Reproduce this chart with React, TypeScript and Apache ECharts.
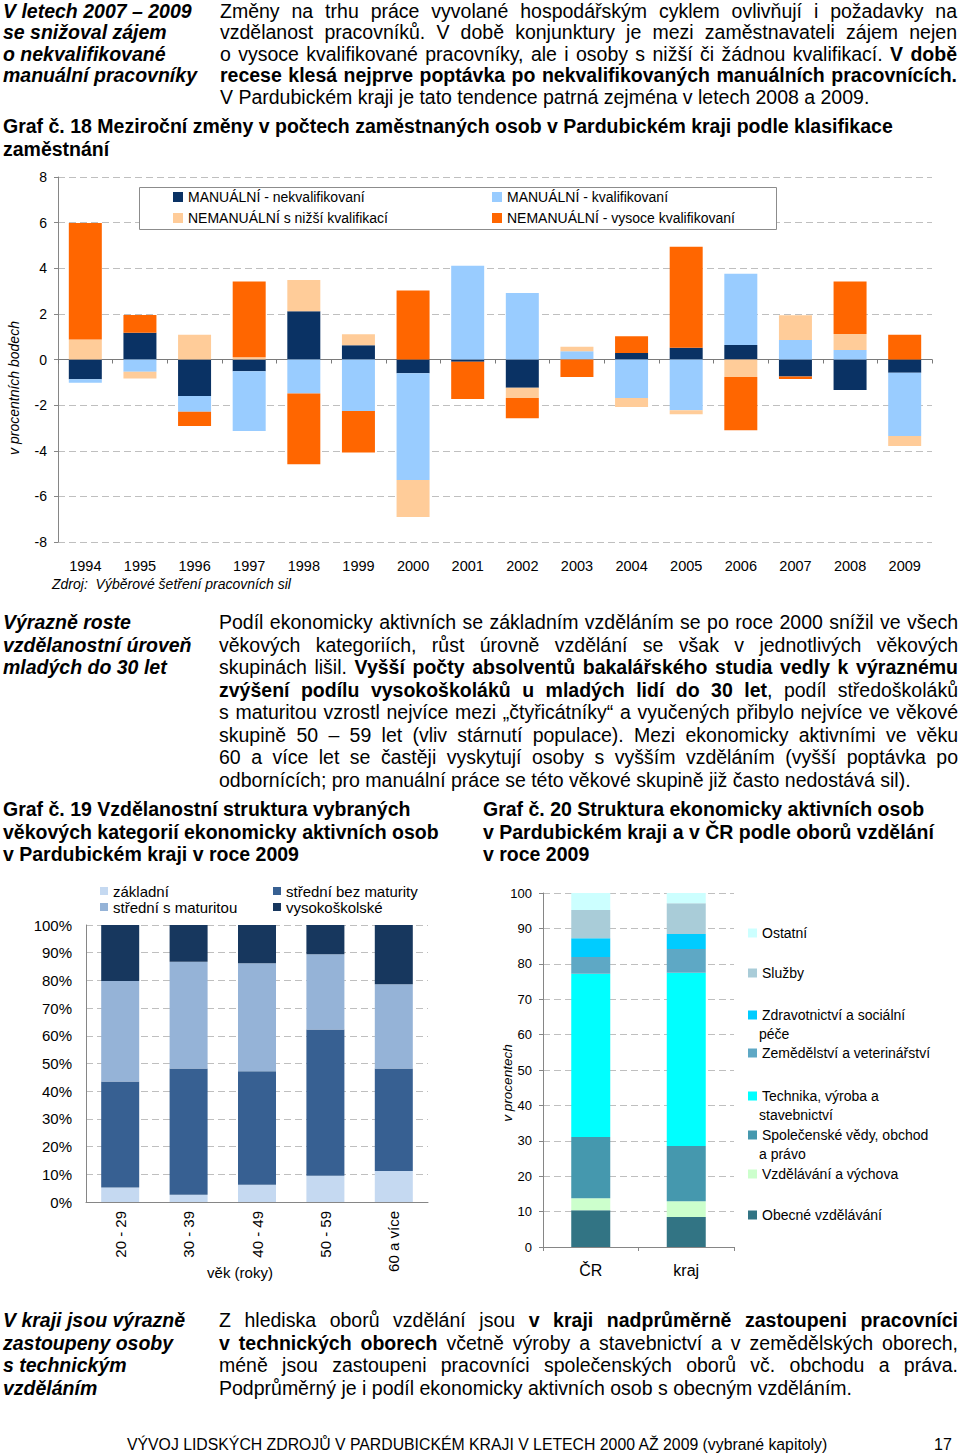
import React, { useEffect, useRef } from "react";
import * as echarts from "echarts";

// ---------- Graf č. 18 ----------
const years = ["1994", "1995", "1996", "1997", "1998", "1999", "2000", "2001", "2002", "2003", "2004", "2005", "2006", "2007", "2008", "2009"];
const manNekval = [-0.87, 1.17, -1.6, -0.51, 2.11, 0.63, -0.6, -0.1, -1.24, 0, 0.28, 0.52, 0.64, -0.74, -1.34, -0.58];
const manKval = [-0.15, -0.54, -0.69, -2.62, -1.49, -2.26, -4.68, 4.11, 2.92, 0.36, -1.69, -2.23, 3.12, 0.85, 0.42, -2.77];
const nemanNizsi = [0.88, -0.29, 1.09, 0.1, 1.38, 0.48, -1.62, 0, -0.45, 0.2, -0.39, -0.17, -0.77, 1.09, 0.7, -0.44];
const nemanVysoce = [5.1, 0.78, -0.63, 3.32, -3.1, -1.82, 3.03, -1.63, -0.89, -0.77, 0.74, 4.42, -2.33, -0.12, 2.3, 1.09];
const s18Names = ["MANUÁLNÍ - nekvalifikovaní", "MANUÁLNÍ - kvalifikovaní", "NEMANUÁLNÍ s nižší kvalifikací", "NEMANUÁLNÍ - vysoce kvalifikovaní"];

// ---------- Graf č. 19 ----------
const ages = ["20 - 29", "30 - 39", "40 - 49", "50 - 59", "60 a více"];
const zakladni = [5.2, 2.6, 6.2, 9.5, 11.2];
const stredniBez = [38.3, 45.6, 41.0, 52.8, 37.0];
const stredniS = [36.3, 38.5, 39.0, 27.1, 30.4];
const vysokoskolske = [20.2, 13.3, 13.8, 10.6, 21.4];
const s19Names = ["základní", "střední bez maturity", "střední s maturitou", "vysokoškolské"];

// ---------- Graf č. 20 ----------
const regions = ["ČR", "kraj"];
const obecne = [10.4, 8.5];
const vzdelavani = [3.4, 4.4];
const spolecenske = [17.3, 15.6];
const technika = [46.1, 49.0];
const zemedelstvi = [4.7, 6.7];
const zdravotnictvi = [5.3, 4.2];
const sluzby = [8.0, 8.7];
const ostatni = [4.8, 2.9];
const s20Names = [
  "Obecné vzdělávání",
  "Vzdělávání a výchova",
  "Společenské vědy, obchod a právo",
  "Technika, výroba a stavebnictví",
  "Zemědělství a veterinářství",
  "Zdravotnictví a sociální péče",
  "Služby",
  "Ostatní",
];

const CF = '"Liberation Sans", Arial, Helvetica, sans-serif';
const AX = "#868686";
const GR = "#BFBFBF";

function Chart({ option, style }: { option: any; style: any }) {
  const ref = useRef<HTMLDivElement>(null);
  useEffect(() => {
    const c = echarts.init(ref.current as HTMLDivElement, null, { renderer: "svg" });
    c.setOption(option);
    return () => c.dispose();
  }, []);
  return <div ref={ref} style={style} />;
}

function txt(x: number, y: number, text: string, font: string, opts: any = {}) {
  return {
    type: "text",
    x,
    y,
    rotation: opts.rotation || 0,
    z: 10,
    style: {
      text,
      font,
      fill: "#000",
      textAlign: opts.align || "left",
      align: opts.align || "left",
      textVerticalAlign: "middle",
      verticalAlign: "middle",
    },
  };
}

const opt18: any = {
  animation: false,
  textStyle: { fontFamily: CF },
  grid: { left: 58, right: 28, top: 17, bottom: 58 },
  xAxis: [
    {
      type: "category",
      data: years,
      axisLine: { onZero: true, lineStyle: { color: "#7a7a7a" } },
      axisTick: { show: true, length: 4, lineStyle: { color: "#7a7a7a" } },
      axisLabel: { show: false },
      splitLine: { show: false },
    },
    {
      type: "category",
      data: years,
      position: "bottom",
      axisLine: { show: false, onZero: false },
      axisTick: { show: false },
      axisLabel: { fontSize: 14.5, color: "#000", margin: 16, fontFamily: CF },
    },
  ],
  yAxis: {
    type: "value",
    min: -8,
    max: 8,
    interval: 2,
    axisLine: { show: true, lineStyle: { color: AX } },
    axisTick: { show: true, length: 4, lineStyle: { color: AX } },
    axisLabel: { fontSize: 14, color: "#000", margin: 11, fontFamily: CF },
    splitLine: { lineStyle: { color: GR, type: [7, 4] } },
  },
  legend: [
    {
      orient: "vertical",
      left: 173,
      top: 30,
      padding: 0,
      itemWidth: 10,
      itemHeight: 10,
      itemGap: 7,
      icon: "rect",
      data: [s18Names[0], s18Names[2]],
      textStyle: { fontSize: 14, lineHeight: 14, color: "#000", fontFamily: CF },
    },
    {
      orient: "vertical",
      left: 492,
      top: 30,
      padding: 0,
      itemWidth: 10,
      itemHeight: 10,
      itemGap: 7,
      icon: "rect",
      data: [s18Names[1], s18Names[3]],
      textStyle: { fontSize: 14, lineHeight: 14, color: "#000", fontFamily: CF },
    },
  ],
  graphic: [
    {
      type: "rect",
      z: 3,
      shape: { x: 139.5, y: 27.5, width: 637, height: 42 },
      style: { fill: "#fff", stroke: "#8c8c8c", lineWidth: 1 },
    },
    txt(14, 228, "v procentních bodech", "italic 14px " + CF, { rotation: Math.PI / 2, align: "center" }),
    txt(52, 424, "Zdroj:  Výběrové šetření pracovních sil", "italic 14px " + CF),
  ],
  series: [
    { name: s18Names[0], data: manNekval, color: "#0A3264" },
    { name: s18Names[1], data: manKval, color: "#99CCFF" },
    { name: s18Names[2], data: nemanNizsi, color: "#FFCC99" },
    { name: s18Names[3], data: nemanVysoce, color: "#FF6600" },
  ].map((s) => ({
    ...s,
    type: "bar",
    stack: "a",
    barWidth: 33,
    itemStyle: { color: s.color },
  })),
};

const opt19: any = {
  animation: false,
  textStyle: { fontFamily: CF },
  grid: { left: 86, right: 12, top: 55, bottom: 88 },
  xAxis: {
    type: "category",
    data: ages,
    axisLine: { lineStyle: { color: AX } },
    axisTick: { show: false },
    axisLabel: { rotate: 90, fontSize: 15, color: "#000", margin: 9, fontFamily: CF },
  },
  yAxis: {
    type: "value",
    min: 0,
    max: 100,
    interval: 10,
    axisLine: { show: true, lineStyle: { color: AX } },
    axisTick: { show: false },
    axisLabel: { formatter: "{value}%", fontSize: 15, color: "#000", margin: 14, fontFamily: CF },
    splitLine: { lineStyle: { color: GR, type: [7, 4] } },
  },
  legend: [
    {
      orient: "vertical",
      left: 100,
      top: 13.5,
      padding: 0,
      itemWidth: 8,
      itemHeight: 8,
      itemGap: 1,
      icon: "rect",
      data: [s19Names[0], s19Names[2]],
      textStyle: { fontSize: 15, lineHeight: 15, color: "#000", fontFamily: CF },
    },
    {
      orient: "vertical",
      left: 273,
      top: 13.5,
      padding: 0,
      itemWidth: 8,
      itemHeight: 8,
      itemGap: 1,
      icon: "rect",
      data: [s19Names[1], s19Names[3]],
      textStyle: { fontSize: 15, lineHeight: 15, color: "#000", fontFamily: CF },
    },
  ],
  graphic: [txt(240, 402, "věk (roky)", "15px " + CF, { align: "center" })],
  series: [
    { name: s19Names[0], data: zakladni, color: "#C5D9F1" },
    { name: s19Names[1], data: stredniBez, color: "#376092" },
    { name: s19Names[2], data: stredniS, color: "#95B3D7" },
    { name: s19Names[3], data: vysokoskolske, color: "#17375E" },
  ].map((s) => ({ ...s, type: "bar", stack: "a", barWidth: 38, itemStyle: { color: s.color } })),
};

const s20Colors = ["#327484", "#CCFFCC", "#4598AE", "#00FFFF", "#5EA8C5", "#00CCFF", "#A9CCD8", "#CCFFFF"];
const s20Data = [obecne, vzdelavani, spolecenske, technika, zemedelstvi, zdravotnictvi, sluzby, ostatni];
// legend layout: [series index, first-line center y, first line text, second line]
const leg20: [number, number, string, string][] = [
  [7, 63, "Ostatní", ""],
  [6, 103, "Služby", ""],
  [5, 145, "Zdravotnictví a sociální", "péče"],
  [4, 183, "Zemědělství a veterinářství", ""],
  [3, 226, "Technika, výroba a", "stavebnictví"],
  [2, 265, "Společenské vědy, obchod", "a právo"],
  [1, 304, "Vzdělávání a výchova", ""],
  [0, 345, "Obecné vzdělávání", ""],
];

const opt20: any = {
  animation: false,
  textStyle: { fontFamily: CF },
  grid: { left: 63, right: 226, top: 23, bottom: 43 },
  xAxis: {
    type: "category",
    data: regions,
    axisLine: { lineStyle: { color: AX } },
    axisTick: { show: true, length: 4, lineStyle: { color: AX } },
    axisLabel: { fontSize: 16, color: "#000", margin: 15, fontFamily: CF },
  },
  yAxis: {
    type: "value",
    min: 0,
    max: 100,
    interval: 10,
    axisLine: { show: true, lineStyle: { color: AX } },
    axisTick: { show: true, length: 4, lineStyle: { color: AX } },
    axisLabel: { fontSize: 13, color: "#000", margin: 11, fontFamily: CF },
    splitLine: { lineStyle: { color: GR, type: [7, 4] } },
  },
  legend: leg20.map(([i, y, first]) => ({
    left: 268,
    top: y - 7,
    padding: 0,
    itemWidth: 9,
    itemHeight: 9,
    icon: "rect",
    data: [s20Names[i]],
    formatter: () => first,
    textStyle: { fontSize: 14, lineHeight: 14, color: "#000", fontFamily: CF },
  })),
  graphic: [
    txt(27, 213, "v procentech", "italic 13.5px " + CF, { rotation: Math.PI / 2, align: "center" }),
    ...leg20
      .filter((l) => l[3])
      .map(([, y, , second]) => txt(279, y + 18.5, second, "14px " + CF)),
  ],
  series: s20Names.map((name, i) => ({
    name,
    type: "bar",
    stack: "a",
    barWidth: 39,
    data: s20Data[i],
    itemStyle: { color: s20Colors[i] },
  })),
};

const NF = '"Liberation Sans Narrow", "Arial Narrow", "Liberation Sans", Arial, sans-serif';
const LH = 22.5;

function J({ children, last, lh = LH }: { children: any; last?: boolean; lh?: number }) {
  return (
    <div
      style={{
        textAlign: last ? "left" : "justify",
        textAlignLast: last ? "left" : "justify",
        whiteSpace: "nowrap",
        height: lh,
        lineHeight: lh + "px",
      } as any}
    >
      {children}
    </div>
  );
}

function Side({ top, lines, lh = LH }: { top: number; lines: string[]; lh?: number }) {
  return (
    <div style={{ position: "absolute", left: 3, top, fontStyle: "italic", fontWeight: "bold", lineHeight: lh + "px" }}>
      {lines.map((l, i) => (
        <div key={i} style={{ height: lh, whiteSpace: "nowrap" }}>{l}</div>
      ))}
    </div>
  );
}

const LH1 = 21.5;

export default function App() {
  return (
    <div
      style={{
        position: "absolute",
        left: 0,
        top: 0,
        width: 960,
        height: 1455,
        background: "#fff",
        overflow: "hidden",
        fontFamily: NF,
        fontSize: 19.5,
        lineHeight: LH + "px",
        color: "#000",
      }}
    >
      <Side top={0.5} lh={LH1} lines={["V letech 2007 – 2009", "se snižoval zájem", "o nekvalifikované", "manuální pracovníky"]} />
      <div style={{ position: "absolute", left: 220, top: 0.5, width: 737 }}>
        <J lh={LH1}>Změny na trhu práce vyvolané hospodářským cyklem ovlivňují i požadavky na</J>
        <J lh={LH1}>vzdělanost pracovníků. V&nbsp;době konjunktury je mezi zaměstnavateli zájem nejen</J>
        <J lh={LH1}>o vysoce kvalifikované pracovníky, ale i osoby s nižší či žádnou kvalifikací. <b>V době</b></J>
        <J lh={LH1}><b>recese klesá nejprve poptávka po nekvalifikovaných manuálních pracovnících.</b></J>
        <J lh={LH1} last>V Pardubickém kraji je tato tendence patrná zejména v letech 2008 a 2009.</J>
      </div>

      <div style={{ position: "absolute", left: 3, top: 115, fontWeight: "bold", whiteSpace: "nowrap" }}>
        <div>Graf č. 18 Meziroční změny v počtech zaměstnaných osob v Pardubickém kraji podle klasifikace</div>
        <div>zaměstnání</div>
      </div>

      <Chart option={opt18} style={{ position: "absolute", left: 0, top: 160, width: 960, height: 440 }} />

      <Side top={611} lines={["Výrazně roste", "vzdělanostní úroveň", "mladých do 30 let"]} />
      <div style={{ position: "absolute", left: 219, top: 611, width: 739 }}>
        <J>Podíl ekonomicky aktivních se základním vzděláním se po roce 2000 snížil ve všech</J>
        <J>věkových kategoriích, růst úrovně vzdělání se však v&nbsp;jednotlivých věkových</J>
        <J>skupinách lišil. <b>Vyšší počty absolventů bakalářského studia vedly k výraznému</b></J>
        <J><b>zvýšení podílu vysokoškoláků u mladých lidí do 30 let</b>, podíl středoškoláků</J>
        <J>s maturitou vzrostl nejvíce mezi „čtyřicátníky“ a vyučených přibylo nejvíce ve věkové</J>
        <J>skupině 50 – 59 let (vliv stárnutí populace). Mezi ekonomicky aktivními ve věku</J>
        <J>60 a více let se častěji vyskytují osoby s&nbsp;vyšším vzděláním (vyšší poptávka po</J>
        <J last>odbornících; pro manuální práce se této věkové skupině již často nedostává sil).</J>
      </div>

      <div style={{ position: "absolute", left: 3, top: 798, fontWeight: "bold", whiteSpace: "nowrap" }}>
        <div>Graf č. 19 Vzdělanostní struktura vybraných</div>
        <div>věkových kategorií ekonomicky aktivních osob</div>
        <div>v Pardubickém kraji v roce 2009</div>
      </div>
      <div style={{ position: "absolute", left: 483, top: 798, fontWeight: "bold", whiteSpace: "nowrap" }}>
        <div>Graf č. 20 Struktura ekonomicky aktivních osob</div>
        <div>v Pardubickém kraji a v ČR podle oborů vzdělání</div>
        <div>v roce 2009</div>
      </div>

      <Chart option={opt19} style={{ position: "absolute", left: 0, top: 870, width: 440, height: 420 }} />
      <Chart option={opt20} style={{ position: "absolute", left: 480, top: 870, width: 480, height: 420 }} />

      <Side top={1309} lines={["V kraji jsou výrazně", "zastoupeny osoby", "s technickým", "vzděláním"]} />
      <div style={{ position: "absolute", left: 219, top: 1309, width: 739 }}>
        <J>Z hlediska oborů vzdělání jsou <b>v kraji nadprůměrně zastoupeni pracovníci</b></J>
        <J><b>v technických oborech</b> včetně výroby a stavebnictví a v zemědělských oborech,</J>
        <J>méně jsou zastoupeni pracovníci společenských oborů vč. obchodu a práva.</J>
        <J last>Podprůměrný je i podíl ekonomicky aktivních osob s obecným vzděláním.</J>
      </div>

      <div style={{ position: "absolute", left: 127, top: 1435, fontSize: 15.8, lineHeight: "20px", whiteSpace: "nowrap" }}>
        VÝVOJ LIDSKÝCH ZDROJŮ V PARDUBICKÉM KRAJI V LETECH 2000 AŽ 2009 (vybrané kapitoly)
      </div>
      <div style={{ position: "absolute", left: 934, top: 1435, fontSize: 16, lineHeight: "20px" }}>17</div>
    </div>
  );
}
